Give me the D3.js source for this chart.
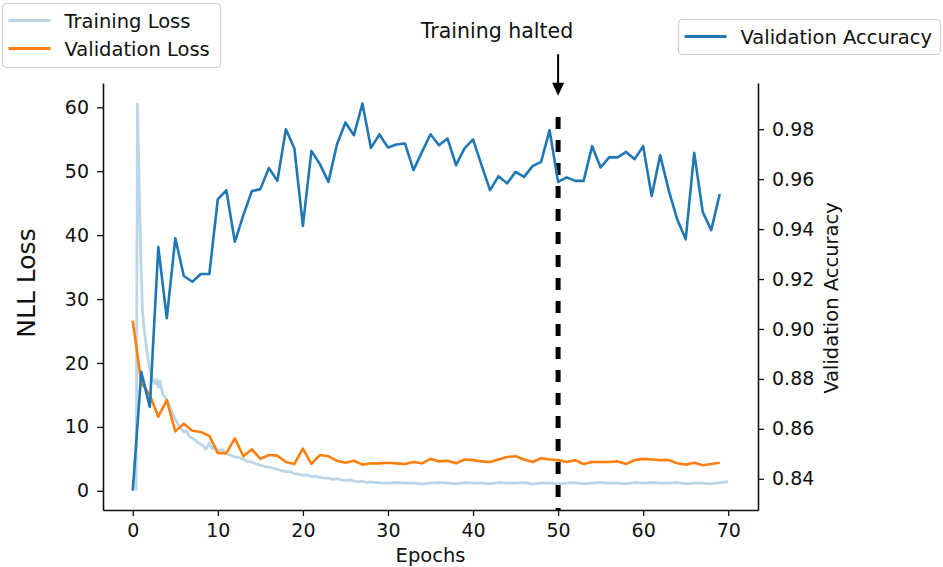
<!DOCTYPE html>
<html>
    <head>
        <meta charset="utf-8">
        <style>
            body { margin: 0; background: #fff; }
            text { font-family: "DejaVu Sans", sans-serif; fill: #111; }
        </style>
    </head>
    <body>
        <svg width="943" height="567"></svg>
        <script src="https://d3js.org/d3.v7.min.js"></script>
        <script>

            // validation values, one per epoch (0..69)
            var epochs = d3.range(0, 70);
            var valLoss = [26.6, 16.9, 15.0, 11.6, 14.2, 9.3, 10.5, 9.4, 9.2, 8.6,
                           5.9, 5.9, 8.2, 5.4, 6.5, 5.0, 5.6, 5.5, 4.5, 4.2,
                           6.6, 4.2, 5.6, 5.4, 4.7, 4.4, 4.7, 4.1, 4.3, 4.3,
                           4.4, 4.3, 4.2, 4.5, 4.3, 5.0, 4.6, 4.7, 4.3, 4.9,
                           4.8, 4.6, 4.5, 4.9, 5.3, 5.4, 4.9, 4.5, 5.1, 4.9,
                           4.8, 4.5, 4.8, 4.2, 4.5, 4.5, 4.5, 4.6, 4.2, 4.8,
                           5.0, 4.9, 4.8, 4.8, 4.3, 4.1, 4.4, 4.0, 4.2, 4.4];
            var valAcc = [0.8352, 0.8828, 0.8688, 0.9328, 0.9043, 0.9363, 0.9212, 0.9189, 0.9220, 0.9220,
                          0.9520, 0.9555, 0.9349, 0.9456, 0.9552, 0.9560, 0.9645, 0.9593, 0.9800, 0.9723,
                          0.9413, 0.9713, 0.9660, 0.9589, 0.9739, 0.9827, 0.9776, 0.9903, 0.9725, 0.9779,
                          0.9727, 0.9739, 0.9743, 0.9636, 0.9709, 0.9780, 0.9736, 0.9763, 0.9656, 0.9723,
                          0.9759, 0.9656, 0.9556, 0.9612, 0.9583, 0.9629, 0.9609, 0.9652, 0.9669, 0.9796,
                          0.9589, 0.9607, 0.9593, 0.9593, 0.9732, 0.9647, 0.9687, 0.9687, 0.9709, 0.9680,
                          0.9732, 0.9532, 0.9696, 0.9556, 0.9439, 0.9359, 0.9705, 0.9469, 0.9396, 0.9540];

            // training loss, logged at fractional epochs
            var trainEpoch = [0.4, 0.55, 0.75, 0.95, 1.15, 1.4, 1.7, 2.0, 2.3, 2.6, 2.8, 3.0, 3.2, 3.5, 3.8,
                              4.1, 4.4, 4.7, 5.0, 5.3, 5.6, 6.0, 6.3, 6.6, 7.0, 7.3, 7.6, 8.0, 8.3, 8.6,
                              9.0, 9.3, 9.6, 10.0, 10.5, 11, 11.5, 12, 12.5, 13, 13.5, 14, 14.5, 15, 15.5,
                              16, 16.5, 17, 17.5, 18, 18.5, 19, 19.5, 20, 20.5, 21, 21.5, 22, 22.5, 23,
                              23.5, 24, 24.5, 25, 25.5, 26, 26.5, 27, 27.5, 28, 28.5, 29, 29.5, 30,
                              31, 32, 33, 34, 35, 36, 37, 38, 39, 40, 41, 42, 43, 44, 45, 46, 47, 48, 49, 50,
                              51, 52, 53, 54, 55, 56, 57, 58, 59, 60, 61, 62, 63, 64, 65, 66, 67, 68, 69, 70];
            var trainLoss = [0.0, 60.5, 48.0, 36.0, 28.0, 24.5, 21.5, 19.0, 17.5, 16.8, 17.4, 16.2, 17.2, 15.2, 14.6,
                             14.0, 13.0, 12.0, 11.2, 10.5, 9.9, 9.2, 9.4, 8.6, 8.2, 8.0, 7.6, 7.3, 7.0, 6.5,
                             7.5, 6.6, 6.9, 6.2, 6.5, 5.8, 5.6, 5.3, 5.2, 4.9, 4.6, 4.5, 4.2, 4.0, 3.8,
                             3.7, 3.5, 3.4, 3.1, 3.0, 3.0, 2.7, 2.6, 2.4, 2.5, 2.2, 2.3, 2.1, 2.0, 2.0,
                             1.8, 1.9, 1.7, 1.6, 1.7, 1.5, 1.4, 1.5, 1.3, 1.4, 1.3, 1.3, 1.2, 1.2,
                             1.3, 1.2, 1.2, 1.1, 1.2, 1.3, 1.2, 1.1, 1.3, 1.2, 1.2, 1.1, 1.3, 1.2, 1.2, 1.3, 1.1, 1.2, 1.2, 1.1,
                             1.2, 1.3, 1.1, 1.2, 1.3, 1.2, 1.2, 1.1, 1.3, 1.2, 1.3, 1.2, 1.2, 1.3, 1.1, 1.2, 1.2, 1.1, 1.3, 1.4];

            var haltEpoch = 50;
            var xTicks = [0, 10, 20, 30, 40, 50, 60, 70];
            var lossTicks = [0, 10, 20, 30, 40, 50, 60];
            var accTicks = [0.84, 0.86, 0.88, 0.90, 0.92, 0.94, 0.96, 0.98];

            var blue = '#1f77b4', orange = '#ff7f0e';

            function translator(x, y){
                return 'translate(' + x + ',' + y + ')';
            }

            var svg = d3.select('svg');
            var area = {left: 103, right: 758, top: 83, bottom: 510};

            var x = d3.scaleLinear().domain([-3.5, 73.5]).range([area.left, area.right]);
            var yL = d3.scaleLinear().domain([-3.0, 63.8]).range([area.bottom, area.top]);
            var yR = d3.scaleLinear().domain([0.8275, 0.9985]).range([area.bottom, area.top]);

            function styleAxis(g){
                g.selectAll('path.domain').attr('stroke', '#111').attr('stroke-width', 1.6);
                g.selectAll('.tick line').attr('stroke', '#111').attr('stroke-width', 1.3);
                g.selectAll('.tick text').attr('font-size', 19)
                    .attr('font-family', '"DejaVu Sans", sans-serif').attr('fill', '#111');
            }

            svg.append('g')
                .attr('transform', translator(0, area.bottom))
                .call(d3.axisBottom(x).tickValues(xTicks).tickFormat(d3.format('d'))
                    .tickSize(6).tickSizeOuter(0).tickPadding(8))
                .call(styleAxis);
            svg.append('g')
                .attr('transform', translator(area.left, 0))
                .call(d3.axisLeft(yL).tickValues(lossTicks).tickFormat(d3.format('d'))
                    .tickSize(6).tickSizeOuter(0).tickPadding(8))
                .call(styleAxis);
            svg.append('g')
                .attr('transform', translator(area.right, 0))
                .call(d3.axisRight(yR).tickValues(accTicks).tickFormat(d3.format('.2f'))
                    .tickSize(6).tickSizeOuter(0).tickPadding(8))
                .call(styleAxis);

            // axis labels
            svg.append('text')
                .attr('transform', translator(35, 283) + ' rotate(-90)')
                .attr('text-anchor', 'middle')
                .attr('font-size', 25)
                .text('NLL Loss');
            svg.append('text')
                .attr('transform', translator(838, 298) + ' rotate(-90)')
                .attr('text-anchor', 'middle')
                .attr('font-size', 19.5)
                .text('Validation Accuracy');
            svg.append('text')
                .attr('x', x(35)).attr('y', 562)
                .attr('text-anchor', 'middle')
                .attr('font-size', 19.5)
                .text('Epochs');

            // lines
            var trainPts = trainEpoch.map(function(e, i){ return [e, trainLoss[i]]; });
            svg.append('path')
                .datum(trainPts)
                .attr('fill', 'none')
                .attr('stroke', blue).attr('stroke-opacity', 0.3)
                .attr('stroke-width', 2.8)
                .attr('stroke-linejoin', 'round')
                .attr('d', d3.line().x(function(d){ return x(d[0]); }).y(function(d){ return yL(d[1]); }));

            svg.append('path')
                .datum(valLoss)
                .attr('fill', 'none')
                .attr('stroke', orange)
                .attr('stroke-width', 2.6)
                .attr('stroke-linejoin', 'round')
                .attr('d', d3.line().x(function(d, i){ return x(epochs[i]); }).y(function(d){ return yL(d); }));

            // halt marker
            svg.append('line')
                .attr('x1', x(haltEpoch)).attr('x2', x(haltEpoch))
                .attr('y1', yL(58.5)).attr('y2', area.bottom)
                .attr('stroke', '#000').attr('stroke-width', 5)
                .attr('stroke-dasharray', '12,11');

            svg.append('path')
                .datum(valAcc)
                .attr('fill', 'none')
                .attr('stroke', blue)
                .attr('stroke-width', 2.6)
                .attr('stroke-linejoin', 'round')
                .attr('d', d3.line().x(function(d, i){ return x(epochs[i]); }).y(function(d){ return yR(d); }));

            // annotation
            var ax = x(haltEpoch), tip = yL(61.8);
            svg.append('line')
                .attr('x1', ax).attr('x2', ax)
                .attr('y1', yL(68.3)).attr('y2', tip - 8)
                .attr('stroke', '#000').attr('stroke-width', 2);
            svg.append('path')
                .attr('d', 'M' + (ax - 6) + ',' + (tip - 13) + 'L' + (ax + 6) + ',' + (tip - 13) + 'L' + ax + ',' + tip + 'Z')
                .attr('fill', '#000');
            svg.append('text')
                .attr('x', 497).attr('y', 37.5)
                .attr('text-anchor', 'middle')
                .attr('font-size', 20.5)
                .text('Training halted');

            // legends
            function legend(g, items, w, h){
                g.append('rect')
                    .attr('width', w).attr('height', h)
                    .attr('rx', 4).attr('ry', 4)
                    .attr('fill', '#fff').attr('fill-opacity', 0.8)
                    .attr('stroke', '#d0d0d0').attr('stroke-width', 1.2);
                items.forEach(function(it, i){
                    var yy = 17 + i * 28;
                    g.append('line')
                        .attr('x1', 6).attr('x2', 48).attr('y1', yy).attr('y2', yy)
                        .attr('stroke', it.color).attr('stroke-opacity', it.opacity)
                        .attr('stroke-width', 2.8);
                    g.append('text')
                        .attr('x', 62).attr('y', yy + 7)
                        .attr('font-size', 19.5)
                        .text(it.label);
                });
            }

            legend(svg.append('g').attr('transform', translator(2.5, 3.5)), [
                {label: 'Training Loss', color: blue, opacity: 0.3},
                {label: 'Validation Loss', color: orange, opacity: 1}
            ], 218, 64);

            legend(svg.append('g').attr('transform', translator(678.5, 19.5)), [
                {label: 'Validation Accuracy', color: blue, opacity: 1}
            ], 262, 35);

        </script>
    </body>
</html>
